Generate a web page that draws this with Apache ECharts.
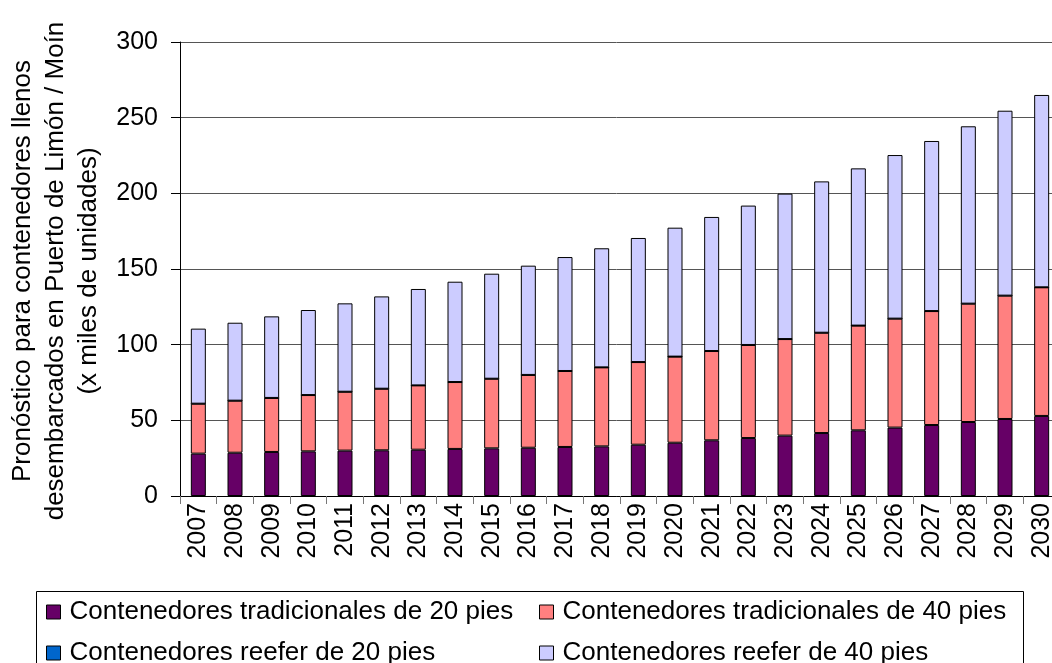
<!DOCTYPE html>
<html>
<head>
<meta charset="utf-8">
<script src="https://cdn.jsdelivr.net/npm/echarts@6/dist/echarts.min.js"></script>
<style>
  html, body { margin: 0; padding: 0; background: #fff; }
  #main { width: 1052px; height: 663px; }
</style>
</head>
<body>
<div id="main"></div>
<script>
// años del pronóstico
var years = ["2007", "2008", "2009", "2010", "2011", "2012", "2013", "2014", "2015", "2016", "2017", "2018",
  "2019", "2020", "2021", "2022", "2023", "2024", "2025", "2026", "2027", "2028", "2029", "2030"];

// miles de unidades
var trad20 = [28.0, 28.6, 29.1, 29.5, 30.0, 30.2, 30.6, 31.1, 31.5, 31.9, 32.4, 32.8,
  33.9, 35.2, 36.8, 38.3, 39.9, 41.6, 43.4, 45.2, 46.9, 48.9, 50.9, 52.9];
var trad40 = [33.0, 34.4, 35.7, 37.2, 38.9, 40.7, 42.5, 44.2, 46.0, 48.1, 50.2, 52.2,
  54.6, 56.9, 59.0, 61.5, 63.8, 66.3, 69.2, 72.0, 75.3, 78.2, 81.5, 85.0];
var reefer20 = [0, 0, 0, 0, 0, 0, 0, 0, 0, 0, 0, 0,
  0, 0, 0, 0, 0, 0, 0, 0, 0, 0, 0, 0];
var reefer40 = [49.6, 51.5, 53.9, 56.2, 58.4, 61.0, 63.7, 66.3, 69.4, 72.2, 75.3, 78.7,
  82.0, 85.2, 88.6, 92.1, 96.1, 100.0, 103.9, 108.1, 112.4, 117.2, 122.2, 127.1];

var yTicks = [0, 50, 100, 150, 200, 250, 300];

var names = [
  "Contenedores tradicionales de 20 pies",
  "Contenedores tradicionales de 40 pies",
  "Contenedores reefer de 20 pies",
  "Contenedores reefer de 40 pies"
];
var colors = ["#660066", "#FF8080", "#0066CC", "#CCCCFF"];
var seriesData = [trad20, trad40, reefer20, reefer40];

var font = "'Liberation Sans', Arial, sans-serif";

function legendAt(name, left, top) {
  return {
    data: [name],
    left: left,
    top: top,
    padding: 0,
    icon: "rect",
    itemWidth: 14,
    itemHeight: 14,
    itemStyle: { borderColor: "#000", borderWidth: 1 },
    textStyle: { fontFamily: font, fontSize: 26, color: "#000", lineHeight: 26, padding: [0, 0, 0, 4] }
  };
}

var myChart = echarts.init(document.getElementById("main"));
myChart.setOption({
  animation: false,
  backgroundColor: "#fff",
  // la última categoría queda cortada por el borde derecho, como en el original
  grid: { left: 180, top: 42, width: 880, bottom: 167, outerBoundsMode: "none", containLabel: false },
  legend: [
    legendAt(names[0], 46, 599),
    legendAt(names[1], 539, 599),
    legendAt(names[2], 46, 640),
    legendAt(names[3], 539, 640)
  ],
  graphic: [
    {
      type: "rect",
      shape: { x: 36.5, y: 591.5, width: 987, height: 100 },
      style: { fill: "none", stroke: "#000", lineWidth: 1 },
      silent: true
    },
    {
      type: "text",
      x: 56,
      y: 271,
      rotation: Math.PI / 2,
      style: {
        text: "Pronóstico para contenedores llenos\ndesembarcados en Puerto de Limón / Moín\n(x miles de unidades)",
        font: "26px " + font,
        fill: "#000",
        align: "center",
        verticalAlign: "middle",
        lineHeight: 33
      }
    }
  ],
  xAxis: {
    type: "category",
    data: years,
    boundaryGap: true,
    axisLine: { lineStyle: { color: "#000", width: 1 } },
    axisTick: { show: true, length: 8, lineStyle: { color: "#777" } },
    axisLabel: { rotate: 90, margin: 7, fontFamily: font, fontSize: 25, color: "#000" }
  },
  yAxis: {
    type: "value",
    min: 0,
    max: yTicks[yTicks.length - 1],
    interval: 50,
    axisLine: { show: true, lineStyle: { color: "#000", width: 1 } },
    axisTick: { show: true, length: 9, lineStyle: { color: "#000" } },
    axisLabel: { margin: 22, fontFamily: font, fontSize: 25, color: "#000" },
    splitLine: { show: true, lineStyle: { color: "#555", width: 1 } }
  },
  series: seriesData.map(function (d, i) {
    return {
      name: names[i],
      type: "bar",
      stack: "total",
      data: d,
      barWidth: 15,
      itemStyle: { color: colors[i], borderColor: "#000", borderWidth: 1 }
    };
  })
});
</script>
</body>
</html>
